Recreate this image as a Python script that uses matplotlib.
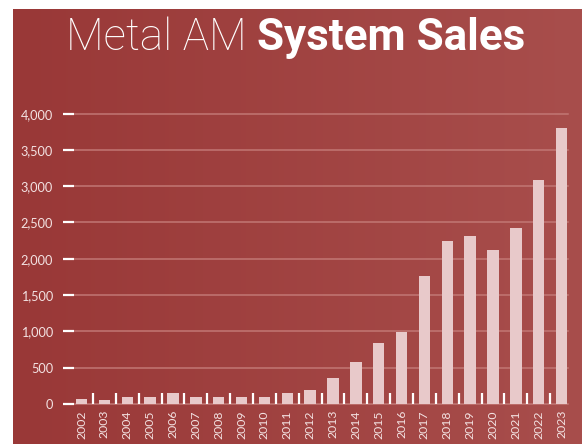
import numpy as np
import matplotlib
matplotlib.use("Agg")
import matplotlib.pyplot as plt
from matplotlib.colors import LinearSegmentedColormap

# Metal additive-manufacturing system sales per year
years = [str(y) for y in range(2002, 2024)]
sales = [60, 50, 90, 100, 145, 100, 100, 100, 100, 145, 190, 355,
         570, 840, 990, 1760, 2250, 2320, 2120, 2430, 3080, 3800]
y_ticks = [0, 500, 1000, 1500, 2000, 2500, 3000, 3500, 4000]
y_tick_labels = [f"{v:,}" for v in y_ticks]

W, H, DPI = 582, 444, 100
BAR = "#e8c9ca"
TEXT = "#f3e2e2"
GRID = "#c27774"
FONT = ["Lato", "DejaVu Sans"]
TITLE_FONT = ["Roboto", "DejaVu Sans"]

fig = plt.figure(figsize=(W / DPI, H / DPI), dpi=DPI)
fig.patch.set_facecolor("white")

# red panel with a gentle left-to-right gradient
bg = fig.add_axes([13 / W, 0, 1 - 13 / W, (H - 9) / H])
cmap = LinearSegmentedColormap.from_list("panel", ["#993837", "#a84e4c"])
bg.imshow(np.linspace(0, 1, 256)[None, :], aspect="auto", cmap=cmap,
          extent=[0, 1, 0, 1])
bg.set_axis_off()

# plotting area in pixel terms
left_px, right_px = 74, 568
zero_px, top_px = 403.8, 113.7
ax = fig.add_axes([left_px / W, (H - zero_px) / H,
                   (right_px - left_px) / W, (zero_px - top_px) / H])
ax.patch.set_alpha(0)
step = 22.86
x0 = 81.5
ax.set_xlim((left_px - x0) / step, (right_px - x0) / step)
ax.set_ylim(0, 4000)

for v in y_ticks:
    ax.axhline(v, color=GRID, lw=1.1, zorder=1, clip_on=False)

x = np.arange(len(years))
ax.bar(x, sales, width=0.5, color=BAR, zorder=3)

# separators between year groups
ax.vlines(x[:-1] + 0.5, 0, 150, color="white", lw=1.6, zorder=4)

for s in ax.spines.values():
    s.set_visible(False)

ax.set_yticks(y_ticks)
ax.set_yticklabels(y_tick_labels, fontsize=9.2, color=TEXT, family=FONT)
ax.tick_params(axis="y", length=8, width=1.6, color="white", pad=7)

ax.set_xticks(x)
ax.set_xticklabels(years, rotation=90, fontsize=8.8, color=TEXT,
                   family=FONT, va="top", ha="center")
ax.tick_params(axis="x", length=0, pad=4.5)

# title: light lead-in followed by bold emphasis
fig.canvas.draw()
renderer = fig.canvas.get_renderer()
t1 = fig.text(0, 0, "Metal AM ", fontsize=31.7, color="white",
              family=TITLE_FONT, fontweight="light")
t2 = fig.text(0, 0, "System Sales", fontsize=31.7, color="white",
              family=TITLE_FONT, fontweight="bold")
w1 = t1.get_window_extent(renderer).width
w2 = t2.get_window_extent(renderer).width
start = 296 - (w1 + w2) / 2
base = H - 50
t1.set_position((start / W, base / H))
t2.set_position(((start + w1) / W, base / H))
t1.set_va("baseline")
t2.set_va("baseline")

fig.savefig("out.png", dpi=DPI, facecolor=fig.get_facecolor())
